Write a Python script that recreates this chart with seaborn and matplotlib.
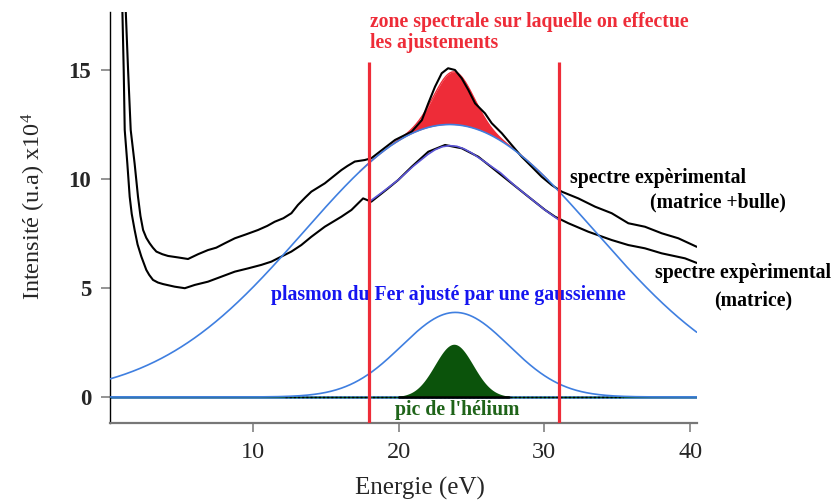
import numpy as np
import pandas as pd
import matplotlib
matplotlib.use("Agg")
import matplotlib.pyplot as plt
import seaborn as sns

# Spectre expérimental : matrice + bulle
energie_bulle = [1.29, 1.45, 1.63, 1.90, 2.13, 2.30, 2.48, 2.70, 2.93, 3.15, 3.39, 3.80, 4.19,
                 4.90, 5.56, 6.25, 6.93, 7.50, 8.08, 8.77, 9.50, 10.36, 11.00, 11.51, 12.10,
                 12.65, 13.10, 13.60, 14.02, 14.94, 15.50, 16.08, 16.50, 17.00, 17.68, 18.13,
                 19.00, 19.76, 20.90, 21.60, 22.04, 22.50, 22.96, 23.40, 23.87, 24.33, 24.79,
                 25.25, 25.93, 26.39, 27.08, 27.76, 28.45, 29.14, 29.82, 30.51, 31.19,
                 32.33, 33.48, 34.62, 35.76, 36.90, 38.05, 39.19, 40.45]
intensite_bulle = [17.70, 15.00, 12.25, 10.70, 9.19, 8.30, 7.66, 7.30, 7.05, 6.85, 6.67, 6.55, 6.47,
                   6.40, 6.33, 6.55, 6.74, 6.85, 7.05, 7.28, 7.45, 7.66, 7.85, 8.04, 8.20,
                   8.43, 8.81, 9.15, 9.42, 9.80, 10.10, 10.41, 10.60, 10.80, 10.87, 10.95,
                   11.40, 11.79, 12.17, 12.70, 13.47, 14.23, 14.85, 15.08, 15.00, 14.62, 14.08,
                   13.47, 13.01, 12.56, 12.10, 11.56, 11.02, 10.56, 10.10, 9.72, 9.42,
                   9.11, 8.73, 8.43, 7.97, 7.81, 7.51, 7.28, 6.89]

# Spectre expérimental : matrice seule
energie_matrice = [1.06, 1.15, 1.22, 1.40, 1.56, 1.70, 1.90, 2.10, 2.36, 2.70, 2.90, 3.16, 3.50,
                   3.85, 4.65, 5.34, 6.02, 6.93, 7.85, 8.77, 9.68, 10.59, 11.28, 11.96, 12.65,
                   13.33, 14.02, 14.94, 16.08, 16.77, 17.57, 18.13, 19.28, 19.97, 20.90, 22.04,
                   23.19, 24.33, 25.47, 26.62, 27.76, 28.90, 30.05, 30.73, 31.65, 33.02, 34.62,
                   35.76, 36.90, 38.05, 39.65, 40.45]
intensite_matrice = [17.70, 15.00, 12.25, 10.70, 9.19, 8.40, 7.66, 7.00, 6.44, 5.83, 5.60, 5.37, 5.25,
                     5.18, 5.06, 4.99, 5.14, 5.29, 5.52, 5.75, 5.90, 6.06, 6.21, 6.44, 6.67,
                     6.97, 7.35, 7.81, 8.27, 8.58, 9.11, 8.96, 9.57, 9.95, 10.56, 11.25,
                     11.56, 11.41, 11.02, 10.41, 9.80, 9.19, 8.58, 8.27, 7.97, 7.58, 7.20,
                     6.97, 6.82, 6.59, 6.36, 6.15]

# Ajustement du spectre de la matrice sur la zone spectrale
energie_fit_matrice = [18.0, 19.0, 20.0, 21.0, 22.0, 22.5, 23.0, 23.5, 24.0, 24.5, 25.0,
                       26.0, 27.0, 28.0, 29.0, 30.0, 31.0]
intensite_fit_matrice = [8.96, 9.45, 9.97, 10.58, 11.12, 11.34, 11.48, 11.53, 11.50, 11.38,
                         11.20, 10.75, 10.28, 9.68, 9.14, 8.60, 8.12]

# Paramètres des gaussiennes ajustées : (amplitude, centre, sigma)
gauss_plasmon_bulle = (12.5, 23.5, 10.0)
gauss_plasmon_fer = (3.88, 23.9, 3.68)
gauss_helium = (2.42, 23.8, 1.31)

# Bornes de la zone spectrale d'ajustement (eV)
zone_ajustement = [18.0, 31.0]

x_ticks = [10, 20, 30, 40]
y_ticks = [0, 5, 10, 15]

sns.set_theme(style="ticks")
plt.rcParams["font.family"] = ["Liberation Serif", "DejaVu Serif"]
plt.rcParams["mathtext.fontset"] = "custom"
plt.rcParams["mathtext.rm"] = "Liberation Serif"
plt.rcParams["mathtext.it"] = "Liberation Serif:italic"
plt.rcParams["mathtext.bf"] = "Liberation Serif:bold"

ROUGE = "#ee2c38"
BLEU = "#3f7fe0"
VIOLET = "#5b55d8"
VERT = "#0b530b"
VERT_TEXTE = "#1f6419"
GRIS = "#777777"


def gaussienne(x, params):
    a, c, s = params
    return a * np.exp(-((x - c) ** 2) / (2 * s ** 2))


fig = plt.figure(figsize=(8.31, 5.03), dpi=100)
ax = fig.add_axes([0.13237, 0.15964, 0.70602, 0.81650])

x = np.linspace(0.21, 40.45, 800)
large = gaussienne(x, gauss_plasmon_bulle)
fer = gaussienne(x, gauss_plasmon_fer)
helium = gaussienne(x, gauss_helium)

# Baseline
ax.plot(x, np.zeros_like(x), color=BLEU, lw=1.9, zorder=2)
ax.plot(x, np.zeros_like(x), color=VERT, lw=1.0, zorder=3)
ax.plot([12.2, 35.4], [0, 0], color="black", lw=1.0, ls=(0, (1.5, 1.5)), zorder=4)

# Excess over the broad plasmon: the helium contribution
zone_he = np.abs(x - gauss_helium[1]) < 4.3
ax.fill_between(x, large, large + helium, where=zone_he, color=ROUGE, lw=0, zorder=3)
bord = np.abs(x - gauss_helium[1]) < 6.5
ax.plot(x[bord], (large + helium)[bord], color=ROUGE, lw=1.0, zorder=3)

# Helium peak alone
zone_pic = np.abs(x - gauss_helium[1]) < 3.8
ax.fill_between(x, 0, helium, where=zone_pic, color=VERT, lw=0, zorder=5)
ax.plot(x[zone_pic], np.zeros(zone_pic.sum()), color="black", lw=1.8, zorder=6)

# Experimental spectra
df_bulle = pd.DataFrame({"Energie": energie_bulle, "Intensite": intensite_bulle})
df_matrice = pd.DataFrame({"Energie": energie_matrice, "Intensite": intensite_matrice})
sns.lineplot(data=df_bulle, x="Energie", y="Intensite", color="black", lw=1.5, ax=ax, zorder=4)
sns.lineplot(data=df_matrice, x="Energie", y="Intensite", color="black", lw=1.5, ax=ax, zorder=4)

# Fitted curves
ax.plot(x, large, color=BLEU, lw=1.2, zorder=5)
ax.plot(x, fer, color=BLEU, lw=1.2, zorder=5)
sns.lineplot(x=energie_fit_matrice, y=intensite_fit_matrice, color=VIOLET, lw=1.2, ax=ax, zorder=5)

# Fitting window
ax.vlines(zone_ajustement, -1.179, 15.36, color=ROUGE, lw=2.3, zorder=7)

ax.set_xlim(0.21, 40.45)
ax.set_ylim(-1.179, 17.66)
ax.set_xticks(x_ticks)
ax.set_yticks(y_ticks)
ax.set_xticklabels([str(v) for v in x_ticks], fontsize=17.5)
ax.set_yticklabels([str(v) for v in y_ticks], fontsize=16.5, fontweight="bold")
ax.set_xlabel("")
ax.set_ylabel("")
ax.tick_params(axis="both", length=6.5, width=1.1, color=GRIS)
ax.tick_params(axis="x", pad=7.5)
ax.tick_params(axis="y", pad=7)
ax.spines["top"].set_visible(False)
ax.spines["right"].set_visible(False)
ax.spines["left"].set_color("black")
ax.spines["left"].set_linewidth(1.0)
ax.spines["bottom"].set_color(GRIS)
ax.spines["bottom"].set_linewidth(1.6)

fig.text(420 / 831, 1 - 488 / 503, "Energie (eV)", fontsize=18, ha="center", va="center")
fig.text(34 / 831, 1 - 206 / 503, r"Intensité (u.a) x10$^{4}$", fontsize=17.5,
         rotation=90, ha="center", va="center")

txt = dict(fontsize=14.2, fontweight="bold", ha="left", va="center")
ax.text(18.04, 17.21, "zone spectrale sur laquelle on effectue", color=ROUGE, **txt)
ax.text(18.04, 16.24, "les ajustements", color=ROUGE, **txt)
ax.text(11.23, 4.68, "plasmon du Fer ajusté par une gaussienne", color="#1515f0", **txt)
ax.text(31.76, 10.05, "spectre expèrimental", color="black", **txt)
ax.text(37.25, 8.90, "(matrice +bulle)", color="black", **txt)
ax.text(37.59, 5.69, "spectre expèrimental", color="black", **txt)
ax.text(41.64, 4.45, "(matrice)", color="black", **txt)
ax.text(19.76, -0.60, "pic de l'hélium", color=VERT_TEXTE, **txt)

fig.savefig("out.png", dpi=100)
